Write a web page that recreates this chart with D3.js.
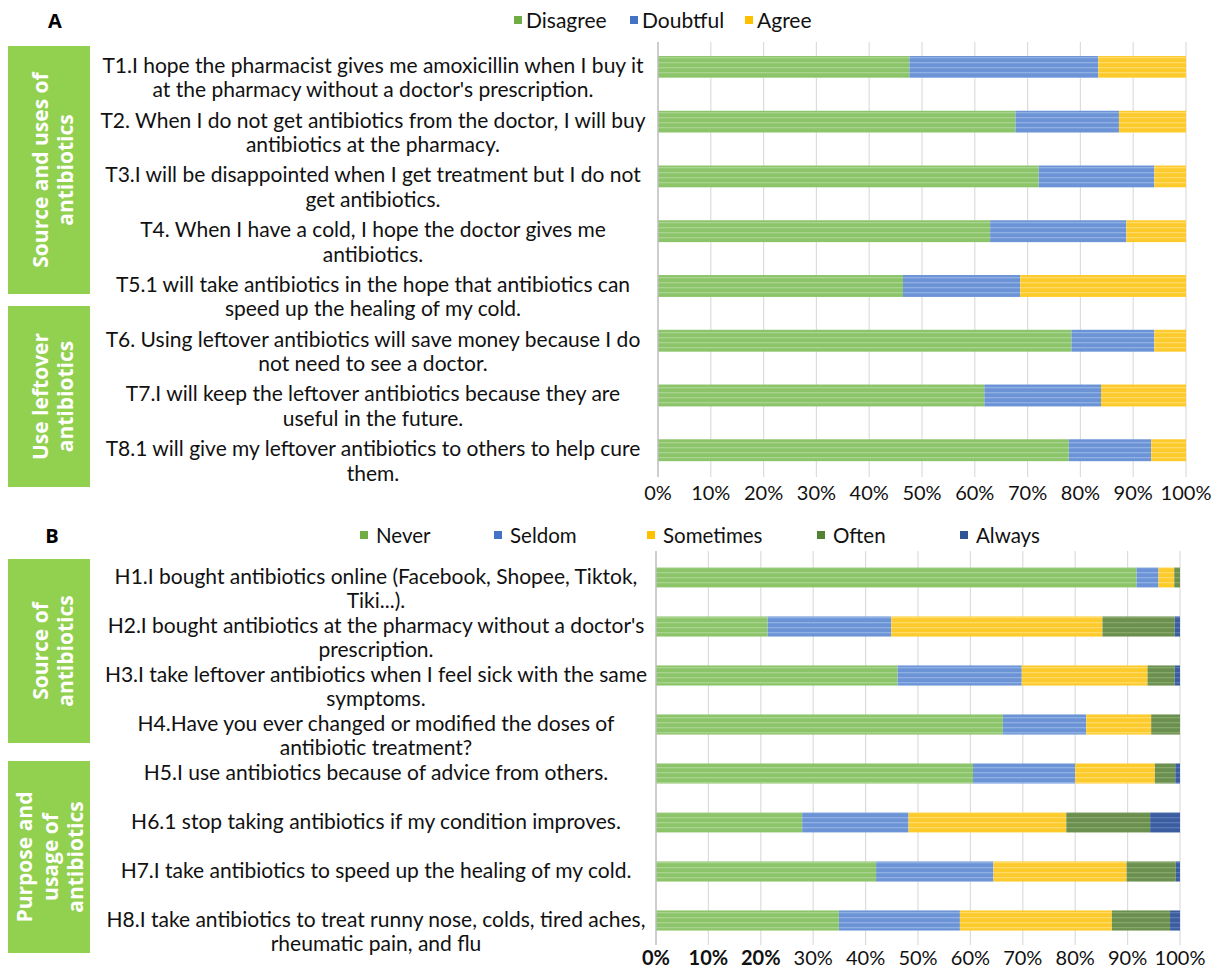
<!DOCTYPE html>
<html>
<head>
<meta charset="utf-8">
<script src="https://cdn.jsdelivr.net/npm/d3@7"></script>
<style>
  body { margin: 0; background: #fff; }
  svg { display: block; font-family: Lato, "Open Sans", sans-serif; }
</style>
</head>
<body>
<div id="chart"></div>
<script>
// Panel A - attitudes
const attitudeCats = ["Disagree", "Doubtful", "Agree"];
const attitudeLabels = [
  ["T1.I hope the pharmacist gives me amoxicillin when I buy it", "at the pharmacy without a doctor's prescription."],
  ["T2. When I do not get antibiotics from the doctor, I will buy", "antibiotics at the pharmacy."],
  ["T3.I will be disappointed when I get treatment but I do not", "get antibiotics."],
  ["T4. When I have a cold, I hope the doctor gives me", "antibiotics."],
  ["T5.1 will take antibiotics in the hope that antibiotics can", "speed up the healing of my cold."],
  ["T6. Using leftover antibiotics will save money because I do", "not need to see a doctor."],
  ["T7.I will keep the leftover antibiotics because they are", "useful in the future."],
  ["T8.1 will give my leftover antibiotics to others to help cure", "them."]
];
const disagree = [47.6, 67.7, 72.1, 62.9, 46.4, 78.3, 61.8, 77.8];
const doubtful = [35.8, 19.6, 21.9, 25.8, 22.2, 15.7, 22.1, 15.6];
const agree    = [16.6, 12.7, 6.0, 11.3, 31.4, 6.0, 16.1, 6.6];
const attitudeGroups = [["Source and uses of", "antibiotics"], ["Use leftover", "antibiotics"]];

// Panel B - practices
const practiceCats = ["Never", "Seldom", "Sometimes", "Often", "Always"];
const practiceLabels = [
  ["H1.I bought antibiotics online (Facebook, Shopee, Tiktok,", "Tiki...)."],
  ["H2.I bought antibiotics at the pharmacy without a doctor's", "prescription."],
  ["H3.I take leftover antibiotics when I feel sick with the same", "symptoms."],
  ["H4.Have you ever changed or modified the doses of", "antibiotic treatment?"],
  ["H5.I use antibiotics because of advice from others."],
  ["H6.1 stop taking antibiotics if my condition improves."],
  ["H7.I take antibiotics to speed up the healing of my cold."],
  ["H8.I take antibiotics to treat runny nose, colds, tired aches,", "rheumatic pain, and flu"]
];
const never     = [91.7, 21.3, 46.1, 66.2, 60.5, 27.9, 42.0, 34.9];
const seldom    = [4.2, 23.6, 23.7, 15.9, 19.5, 20.3, 22.4, 23.1];
const sometimes = [3.0, 40.3, 24.0, 12.4, 15.2, 30.1, 25.4, 29.0];
const often     = [1.1, 13.8, 5.2, 5.5, 3.9, 16.0, 9.4, 11.1];
const always    = [0.0, 1.0, 1.0, 0.0, 0.9, 5.7, 0.8, 1.9];
const practiceGroups = [["Source of", "antibiotics"], ["Purpose and", "usage of", "antibiotics"]];

const xTicks = [0, 10, 20, 30, 40, 50, 60, 70, 80, 90, 100];

// Colours (legend swatch / bar fill / stripe)
const palette = {
  Disagree:  ["#70ad47", "#8cc46a", "#a9d48f"],
  Never:     ["#70ad47", "#8cc46a", "#a9d48f"],
  Doubtful:  ["#4472c4", "#6b93d6", "#8fb0e3"],
  Seldom:    ["#4472c4", "#6b93d6", "#8fb0e3"],
  Agree:     ["#ffc000", "#fdca2c", "#ffda66"],
  Sometimes: ["#ffc000", "#fdca2c", "#ffda66"],
  Often:     ["#548235", "#6b8f4e", "#86a86b"],
  Always:    ["#2f5597", "#3b5da0", "#5a79b6"]
};

const W = 1213, H = 969;
const svg = d3.select("#chart").append("svg")
  .attr("width", W).attr("height", H);

const defs = svg.append("defs");
Object.keys(palette).forEach(k => {
  const p = defs.append("pattern")
    .attr("id", "pat-" + k)
    .attr("patternUnits", "userSpaceOnUse")
    .attr("width", 6).attr("height", 5);
  p.append("rect").attr("width", 6).attr("height", 5).attr("fill", palette[k][1]);
  p.append("rect").attr("y", 2).attr("width", 6).attr("height", 1.3).attr("fill", palette[k][2]);
});

function drawPanel(cfg) {
  const g = svg.append("g");

  const x = d3.scaleLinear().domain([0, 100]).range([cfg.x0, cfg.x1]);
  const y = d3.scaleBand().domain(d3.range(cfg.labels.length))
    .range([cfg.yTop, cfg.yBottom]).paddingInner(cfg.pad).paddingOuter(cfg.pad / 2);

  // gridlines
  g.append("g").selectAll("line").data(xTicks.slice(1)).join("line")
    .attr("x1", d => x(d)).attr("x2", d => x(d))
    .attr("y1", cfg.gridTop).attr("y2", cfg.gridBottom)
    .attr("stroke", "#dcdcdc").attr("stroke-width", 1.2);

  // tick labels
  g.append("g").selectAll("text").data(xTicks).join("text")
    .attr("x", d => x(d)).attr("y", cfg.tickY)
    .attr("text-anchor", "middle")
    .attr("font-size", 20).attr("fill", "#111")
    .attr("font-weight", (d, i) => i < cfg.boldTicks ? 700 : 400)
    .text(d => d + "%");

  // stacked bars
  const rows = cfg.labels.map((l, i) => {
    const r = { i };
    cfg.cats.forEach((c, j) => r[c] = cfg.series[j][i]);
    return r;
  });
  const stacked = d3.stack().keys(cfg.cats)(rows);
  g.append("g").selectAll("g").data(stacked).join("g")
    .attr("fill", s => "url(#pat-" + s.key + ")")
    .selectAll("rect").data(s => s).join("rect")
    .attr("x", d => x(d[0]))
    .attr("width", d => Math.max(0, x(d[1]) - x(d[0])))
    .attr("y", (d, i) => y(i))
    .attr("height", y.bandwidth());

  // left axis line
  g.append("line")
    .attr("x1", x(0)).attr("x2", x(0))
    .attr("y1", cfg.gridTop).attr("y2", cfg.gridBottom)
    .attr("stroke", "#bdbdbd").attr("stroke-width", 1.5);

  // category labels
  const lab = g.append("g").selectAll("text").data(cfg.labels).join("text")
    .attr("text-anchor", "middle")
    .attr("font-size", 21).attr("fill", "#111")
    .attr("y", (d, i) => y(i) + y.bandwidth() / 2 + 6);
  lab.selectAll("tspan").data(d => d).join("tspan")
    .attr("x", cfg.labelX)
    .attr("dy", (d, i) => i === 0 ? 0 : cfg.lineH)
    .text(d => d);

  // side group boxes
  cfg.groups.forEach((grp, k) => {
    const [top, bottom] = cfg.boxes[k];
    g.append("rect")
      .attr("x", 8).attr("y", top)
      .attr("width", 82).attr("height", bottom - top)
      .attr("fill", "#92d050");
    const cy = (top + bottom) / 2;
    const n = grp.length;
    const cx = n === 2 ? 53 : 50;
    const t = g.append("text")
      .attr("transform", `translate(${cx},${cy}) rotate(-90)`)
      .attr("text-anchor", "middle")
      .attr("font-family", "'Open Sans', sans-serif")
      .attr("font-size", 21).attr("font-weight", 700)
      .attr("fill", "#fff");
    t.selectAll("tspan").data(grp).join("tspan")
      .attr("x", 0)
      .attr("y", (d, i) => (i - (n - 1) / 2) * 25.5 + 7.5)
      .text(d => d);
  });

  // legend
  const leg = g.append("g").selectAll("g").data(cfg.cats).join("g")
    .attr("transform", (d, i) => `translate(${cfg.legendX[i]},${cfg.legendY})`);
  leg.append("rect")
    .attr("x", 0).attr("y", -4).attr("width", 8).attr("height", 8)
    .attr("fill", d => palette[d][0]);
  leg.append("text")
    .attr("x", cfg.legendGap).attr("y", 7.5)
    .attr("font-size", cfg.legendSize).attr("fill", "#111")
    .text(d => d);

  // panel letter
  g.append("text")
    .attr("x", cfg.letterX).attr("y", cfg.legendY + 8)
    .attr("font-family", "'Open Sans', sans-serif")
    .attr("font-size", 20).attr("font-weight", 700)
    .attr("text-anchor", "middle")
    .text(cfg.letter);
}

drawPanel({
  letter: "A", letterX: 55,
  cats: attitudeCats, labels: attitudeLabels,
  series: [disagree, doubtful, agree],
  groups: attitudeGroups, boxes: [[46, 294], [306, 487]],
  x0: 658, x1: 1186, yTop: 39.6, yBottom: 477.6, pad: 0.6,
  gridTop: 42, gridBottom: 477, tickY: 500, boldTicks: 0,
  labelX: 373, lineH: 24.5,
  legendY: 20, legendX: [514, 630, 745], legendGap: 12, legendSize: 21
});

drawPanel({
  letter: "B", letterX: 52,
  cats: practiceCats, labels: practiceLabels,
  series: [never, seldom, sometimes, often, always],
  groups: practiceGroups, boxes: [[559, 743], [761, 953]],
  x0: 656, x1: 1180, yTop: 553, yBottom: 945, pad: 0.59,
  gridTop: 551, gridBottom: 945, tickY: 965, boldTicks: 3,
  labelX: 376, lineH: 24,
  legendY: 535, legendX: [360, 494, 647, 817, 960], legendGap: 16, legendSize: 20.5
});
</script>
</body>
</html>
